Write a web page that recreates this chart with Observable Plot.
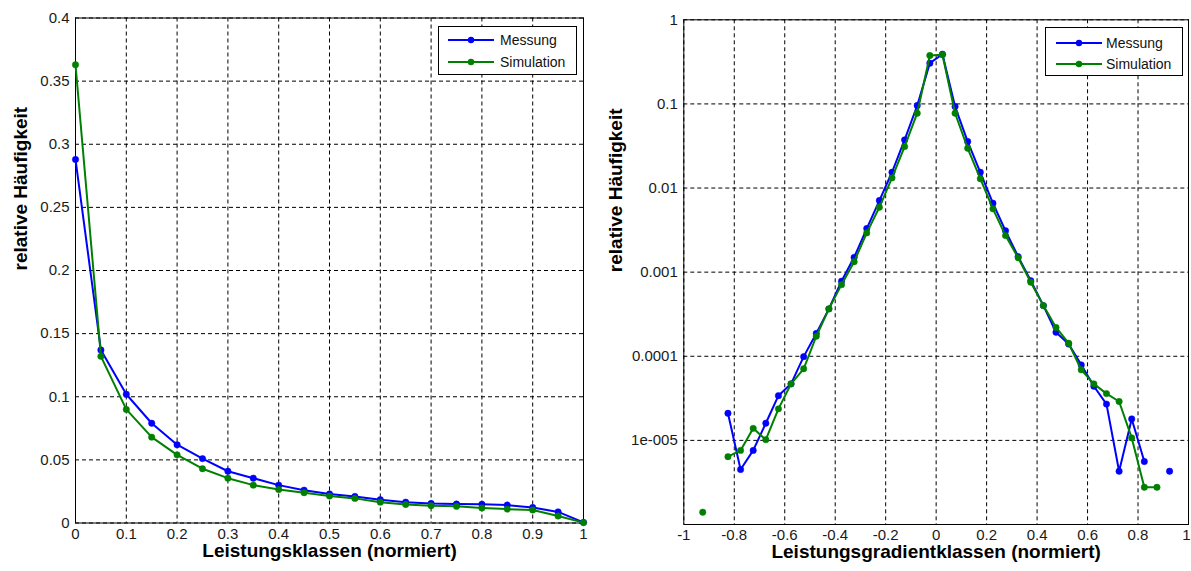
<!DOCTYPE html>
<html>
<head>
<meta charset="utf-8">
<script src="https://cdn.jsdelivr.net/npm/d3@7"></script>
<script src="https://cdn.jsdelivr.net/npm/@observablehq/plot@0.6"></script>
<style>
  html, body { margin: 0; padding: 0; background: #fff; }
  #wrap { position: relative; width: 1191px; height: 571px; overflow: hidden; font-family: "Liberation Sans", Arial, sans-serif; }
  #left { position: absolute; left: 0; top: 0; }
  #right { position: absolute; left: 600px; top: 0; }
  #wrap svg [aria-label$="tick label"], #wrap svg [aria-label$="tick label"] text { font-size: 15px !important; fill: #1a1a1a; }
  .legend { position: absolute; border: 1px solid #000; background: #fff; box-sizing: border-box; }
  .legend .row { position: absolute; left: 0; height: 20px; width: 100%; }
  .legend svg { position: absolute; left: 0; top: 0; }
  .legend span { position: absolute; font-size: 14px; line-height: 20px; color: #111; }
</style>
</head>
<body>
<div id="wrap">
  <div id="left"></div>
  <div id="right"></div>
</div>
<script>
// ---------------- data ----------------
const powerClasses = [0, 0.05, 0.1, 0.15, 0.2, 0.25, 0.3, 0.35, 0.4, 0.45, 0.5, 0.55, 0.6, 0.65, 0.7, 0.75, 0.8, 0.85, 0.9, 0.95, 1];
const powerMessung = [0.288, 0.137, 0.102, 0.079, 0.062, 0.051, 0.041, 0.0355, 0.030, 0.026, 0.023, 0.021, 0.0185, 0.0165, 0.0155, 0.015, 0.0148, 0.0142, 0.0123, 0.0088, 0.0005];
const powerSimulation = [0.363, 0.132, 0.090, 0.068, 0.054, 0.043, 0.0355, 0.030, 0.0265, 0.024, 0.0213, 0.0195, 0.0165, 0.0147, 0.0137, 0.0132, 0.0119, 0.011, 0.0103, 0.0055, 0.0003];

const gradClasses = [-0.925, -0.875, -0.825, -0.775, -0.725, -0.675, -0.625, -0.575, -0.525, -0.475, -0.425, -0.375, -0.325, -0.275, -0.225, -0.175, -0.125, -0.075, -0.025,
                     0.025, 0.075, 0.125, 0.175, 0.225, 0.275, 0.325, 0.375, 0.425, 0.475, 0.525, 0.575, 0.625, 0.675, 0.725, 0.775, 0.825, 0.875, 0.925];
const gradMessung = [null, null, 2.1e-5, 4.5e-6, 7.6e-6, 1.6e-5, 3.4e-5, 4.7e-5, 9.9e-5, 1.87e-4, 3.66e-4, 7.8e-4, 1.5e-3, 3.3e-3, 7.1e-3, 0.0154, 0.0374, 0.0957, 0.305,
                     0.39, 0.093, 0.0357, 0.0154, 6.6e-3, 3.1e-3, 1.53e-3, 7.9e-4, 4.0e-4, 1.93e-4, 1.4e-4, 7.9e-5, 4.4e-5, 2.7e-5, 4.3e-6, 1.8e-5, 5.6e-6, null, 4.3e-6];
const gradSimulation = [1.4e-6, null, 6.4e-6, 7.6e-6, 1.39e-5, 1.02e-5, 2.37e-5, 4.7e-5, 7.1e-5, 1.73e-4, 3.66e-4, 7.1e-4, 1.33e-3, 2.93e-3, 5.9e-3, 0.0132, 0.0311, 0.0775, 0.376,
                        0.385, 0.0775, 0.0297, 0.0129, 5.66e-3, 2.72e-3, 1.48e-3, 7.6e-4, 4.0e-4, 2.2e-4, 1.43e-4, 6.9e-5, 4.7e-5, 3.6e-5, 2.9e-5, 1.07e-5, 2.77e-6, 2.77e-6, null];

const seriesNames = ["Messung", "Simulation"];
const seriesColors = ["#0000ff", "#008000"];

const leftXTicks = [0, 0.1, 0.2, 0.3, 0.4, 0.5, 0.6, 0.7, 0.8, 0.9, 1];
const leftXTickLabels = ["0", "0.1", "0.2", "0.3", "0.4", "0.5", "0.6", "0.7", "0.8", "0.9", "1"];
const leftYTicks = [0, 0.05, 0.1, 0.15, 0.2, 0.25, 0.3, 0.35, 0.4];
const leftYTickLabels = ["0", "0.05", "0.1", "0.15", "0.2", "0.25", "0.3", "0.35", "0.4"];
const rightXTicks = [-1, -0.8, -0.6, -0.4, -0.2, 0, 0.2, 0.4, 0.6, 0.8, 1];
const rightXTickLabels = ["-1", "-0.8", "-0.6", "-0.4", "-0.2", "0", "0.2", "0.4", "0.6", "0.8", "1"];
const rightYTicks = [1, 0.1, 0.01, 0.001, 0.0001, 0.00001];
const rightYTickLabels = ["1", "0.1", "0.01", "0.001", "0.0001", "1e-005"];

const leftXLabel = "Leistungsklassen (normiert)";
const rightXLabel = "Leistungsgradientklassen (normiert)";
const yLabel = "relative Häufigkeit";

// ---------------- helpers ----------------
function fmt(ticks, labels) {
  return v => { const i = ticks.findIndex(t => Math.abs(t - v) < 1e-12); return i >= 0 ? labels[i] : ""; };
}
function table(xs, ys, name) {
  return xs.map((x, i) => ({x, y: ys[i], series: name}));
}
const FONT = '"Liberation Sans", Arial, sans-serif';
const dash = "4,3";
const TICKFONT = 15;

function seriesMarks(data, color) {
  return [
    Plot.line(data, {x: "x", y: "y", stroke: color, strokeWidth: 2}),
    Plot.dot(data.filter(d => d.y != null), {x: "x", y: "y", fill: color, r: 3.2, stroke: color, strokeWidth: 0.5})
  ];
}

// ---------------- left chart ----------------
const leftM = table(powerClasses, powerMessung, "Messung");
const leftS = table(powerClasses, powerSimulation, "Simulation");
const leftPlot = Plot.plot({
  width: 600, height: 571,
  marginLeft: 75, marginRight: 17, marginTop: 17.5, marginBottom: 48.5,
  style: {fontFamily: FONT, fontSize: "15px", background: "transparent", color: "#111", overflow: "visible"},
  x: {domain: [0, 1]},
  y: {domain: [0, 0.4]},
  marks: [
    Plot.gridX(leftXTicks, {stroke: "#000", strokeOpacity: 1, strokeDasharray: dash, strokeWidth: 1}),
    Plot.gridY(leftYTicks, {stroke: "#000", strokeOpacity: 1, strokeDasharray: dash, strokeWidth: 1}),
    Plot.axisX({ticks: leftXTicks, tickFormat: fmt(leftXTicks, leftXTickLabels), tickSize: 0, tickPadding: 5, label: null, fontSize: TICKFONT}),
    Plot.axisY({ticks: leftYTicks, tickFormat: fmt(leftYTicks, leftYTickLabels), tickSize: 0, tickPadding: 6, label: null, fontSize: TICKFONT}),
    Plot.frame({stroke: "#000", strokeWidth: 1}),
    ...seriesMarks(leftM, seriesColors[0]),
    ...seriesMarks(leftS, seriesColors[1]),
    Plot.text([yLabel], {text: d => d, frameAnchor: "left", dx: -55, rotate: -90, fontSize: 19, fontWeight: "bold", fill: "#000"}),
    Plot.text([leftXLabel], {text: d => d, frameAnchor: "bottom", dy: 33.5, fontSize: 19, fontWeight: "bold", fill: "#000"})
  ]
});
document.getElementById("left").appendChild(leftPlot);

// ---------------- right chart ----------------
const rightM = table(gradClasses, gradMessung, "Messung");
const rightS = table(gradClasses, gradSimulation, "Simulation");
const rightXTicksInner = rightXTicks.slice(0, -1);
const rightXTicksLast = rightXTicks.slice(-1);
const rightPlot = Plot.plot({
  width: 591, height: 571,
  marginLeft: 83.3, marginRight: 3, marginTop: 19.3, marginBottom: 47,
  style: {fontFamily: FONT, fontSize: "15px", background: "transparent", color: "#111", overflow: "visible"},
  x: {domain: [-1, 1]},
  y: {type: "log", domain: [1e-6, 1]},
  marks: [
    Plot.gridX(rightXTicks, {stroke: "#000", strokeOpacity: 1, strokeDasharray: dash, strokeWidth: 1}),
    Plot.gridY(rightYTicks, {stroke: "#000", strokeOpacity: 1, strokeDasharray: dash, strokeWidth: 1}),
    Plot.axisX({ticks: rightXTicksInner, tickFormat: fmt(rightXTicks, rightXTickLabels), tickSize: 0, tickPadding: 5, label: null, fontSize: TICKFONT}),
    Plot.axisX({ticks: rightXTicksLast, tickFormat: fmt(rightXTicks, rightXTickLabels), tickSize: 0, tickPadding: 5, label: null, fontSize: TICKFONT, textAnchor: "end", dx: 2}),
    Plot.axisY({ticks: rightYTicks, tickFormat: fmt(rightYTicks, rightYTickLabels), tickSize: 0, tickPadding: 6, label: null, fontSize: TICKFONT}),
    Plot.frame({stroke: "#000", strokeWidth: 1}),
    ...seriesMarks(rightM, seriesColors[0]),
    ...seriesMarks(rightS, seriesColors[1]),
    Plot.text([yLabel], {text: d => d, frameAnchor: "left", dx: -68, rotate: -90, fontSize: 19, fontWeight: "bold", fill: "#000"}),
    Plot.text([rightXLabel], {text: d => d, frameAnchor: "bottom", dy: 33.5, fontSize: 19, fontWeight: "bold", fill: "#000"})
  ]
});
document.getElementById("right").appendChild(rightPlot);

// ---------------- legends ----------------
function addLegend(left, top, width, height, lineX0, lineX1, textX, rowYs) {
  const box = document.createElement("div");
  box.className = "legend";
  Object.assign(box.style, {left: left + "px", top: top + "px", width: width + "px", height: height + "px"});
  seriesNames.forEach((name, i) => {
    const row = document.createElement("div");
    row.className = "row";
    row.style.top = (rowYs[i] - top - 10) + "px";
    const svg = d3.create("svg").attr("width", lineX1 - left + 4).attr("height", 20);
    svg.append("line").attr("x1", lineX0 - left).attr("x2", lineX1 - left).attr("y1", 10).attr("y2", 10)
      .attr("stroke", seriesColors[i]).attr("stroke-width", 2);
    svg.append("circle").attr("cx", (lineX0 + lineX1) / 2 - left).attr("cy", 10).attr("r", 3.2).attr("fill", seriesColors[i]);
    row.appendChild(svg.node());
    const span = document.createElement("span");
    span.textContent = name;
    span.style.left = (textX - left) + "px";
    span.style.top = "0px";
    row.appendChild(span);
    box.appendChild(row);
  });
  document.getElementById("wrap").appendChild(box);
}
addLegend(438, 26, 139, 49, 447, 493, 499, [39, 61]);
addLegend(1045, 27, 138, 49, 1055, 1101, 1105, [41.5, 62.5]);
</script>
</body>
</html>
